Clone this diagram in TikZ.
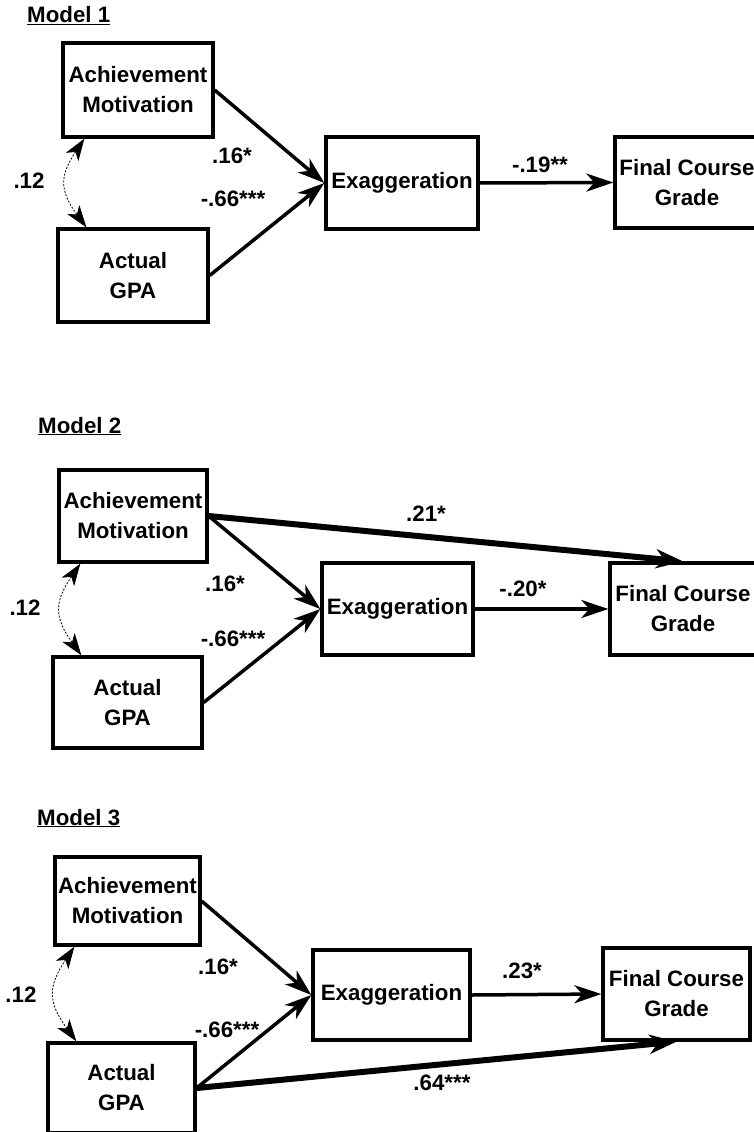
\documentclass[tikz,border=0pt]{standalone}
\usepackage{fontspec}
\setmainfont{Liberation Sans}
\usetikzlibrary{arrows.meta}
\begin{document}
\begin{tikzpicture}[x=1pt,y=-1pt,
  font=\fontsize{22.3}{30}\selectfont\bfseries,
  var/.style={draw,line width=3.3pt,align=center,inner sep=0pt},
  lbl/.style={inner sep=0pt},
  effect/.style={line width=3.5pt,-{Stealth[length=27pt,width=18pt,inset=8pt]}},
  direct/.style={line width=6pt,-{Stealth[length=27pt,width=19pt,inset=8pt]}},
  cov/.style={line width=0.8pt,dash pattern=on 2pt off 1.5pt,
    {Stealth[length=22pt,width=15pt,inset=6pt]}-{Stealth[length=22pt,width=15pt,inset=6pt]}}]
  \useasboundingbox (0,0) rectangle (754,1132);
  % Model 1
  \node[anchor=base west,inner sep=0pt] (t1) at (27,23) {\underline{Model 1}};
  \node[var,minimum width=150,minimum height=94] (am1) at (138,90) {Achievement\\Motivation};
  \node[var,minimum width=150,minimum height=93] (gpa1) at (133,275.5) {Actual\\GPA};
  \node[var,minimum width=152,minimum height=92] (ex1) at (402,183) {Exaggeration};
  \node[var,minimum width=144,minimum height=91] (fcg1) at (687,182.5) {Final Course\\Grade};
  \draw[effect] (am1.east) -- (ex1.west);
  \draw[effect] (gpa1.east) -- (ex1.west);
  \draw[effect] (ex1.east) -- (fcg1.west);
  \draw[cov] ([xshift=23pt]am1.south west) to[bend right=35,looseness=1.3] ([xshift=30pt]gpa1.north west);
  \node[lbl] (c1) at (29,181) {.12};
  \node[lbl] (b1a) at (232,156) {.16*};
  \node[lbl] (b1b) at (233,199) {-.66***};
  \node[lbl] (b1c) at (540,165) {-.19**};
  % Model 2
  \node[anchor=base west,inner sep=0pt] (t2) at (38,433) {\underline{Model 2}};
  \node[var,minimum width=148,minimum height=92] (am2) at (133,516) {Achievement\\Motivation};
  \node[var,minimum width=149,minimum height=91] (gpa2) at (127.5,702.5) {Actual\\GPA};
  \node[var,minimum width=151,minimum height=92] (ex2) at (397.5,609) {Exaggeration};
  \node[var,minimum width=146,minimum height=92] (fcg2) at (683,609) {Final Course\\Grade};
  \draw[direct] (am2.east) -- (fcg2.north);
  \draw[effect] (am2.east) -- (ex2.west);
  \draw[effect] (gpa2.east) -- (ex2.west);
  \draw[effect] (ex2.east) -- (fcg2.west);
  \draw[cov] ([xshift=23pt]am2.south west) to[bend right=35,looseness=1.3] ([xshift=30pt]gpa2.north west);
  \node[lbl] (c2) at (25,608) {.12};
  \node[lbl] (b2a) at (225,584) {.16*};
  \node[lbl] (b2b) at (233,639) {-.66***};
  \node[lbl] (b2c) at (523,589) {-.20*};
  \node[lbl] (b2d) at (426,514) {.21*};
  % Model 3
  \node[anchor=base west,inner sep=0pt] (t3) at (37,825) {\underline{Model 3}};
  \node[var,minimum width=145,minimum height=88] (am3) at (127.5,901) {Achievement\\Motivation};
  \node[var,minimum width=147,minimum height=90] (gpa3) at (121.5,1088) {Actual\\GPA};
  \node[var,minimum width=157,minimum height=90] (ex3) at (391.5,995) {Exaggeration};
  \node[var,minimum width=147,minimum height=92] (fcg3) at (676.5,994) {Final Course\\Grade};
  \draw[effect] (am3.east) -- (ex3.west);
  \draw[effect] (gpa3.east) -- (ex3.west);
  \draw[direct] (gpa3.east) -- (fcg3.south);
  \draw[effect] (ex3.east) -- (fcg3.west);
  \draw[cov] ([xshift=21pt]am3.south west) to[bend right=35,looseness=1.3] ([xshift=30pt]gpa3.north west);
  \node[lbl] (c3) at (21,995) {.12};
  \node[lbl] (b3a) at (218,967) {.16*};
  \node[lbl] (b3b) at (227,1030) {-.66***};
  \node[lbl] (b3c) at (522,971) {.23*};
  \node[lbl] (b3d) at (442,1083) {.64***};
\end{tikzpicture}
\end{document}
